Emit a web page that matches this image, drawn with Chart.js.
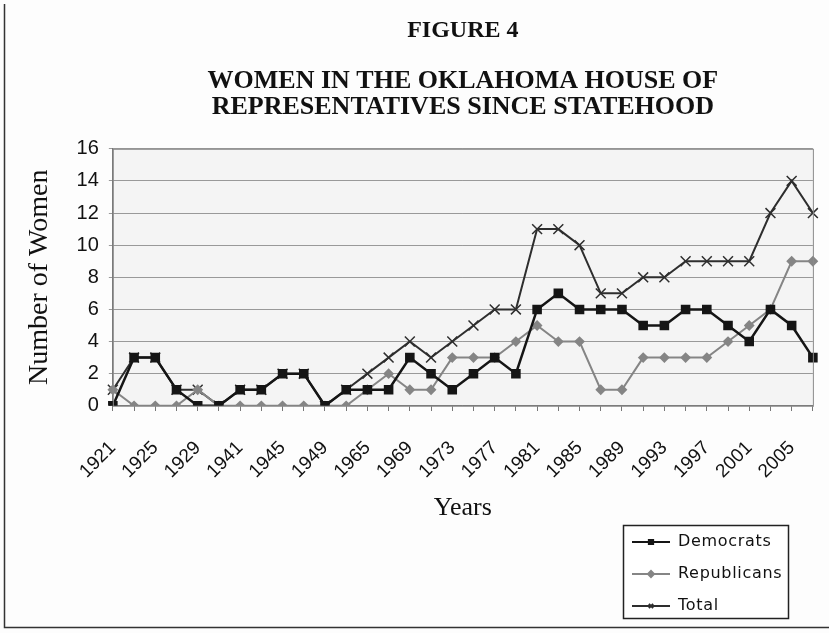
<!DOCTYPE html>
<html>
<head>
<meta charset="utf-8">
<script src="https://cdn.jsdelivr.net/npm/chart.js@4"></script>
<style>
  html, body { margin: 0; padding: 0; background: #fdfdfd; }
  #wrap { width: 829px; height: 633px; }
</style>
</head>
<body>
<div id="wrap"><canvas id="graph"></canvas></div>
<script>
const years = ['1921','1923','1925','1927','1929','1931','1941','1943','1945','1947','1949','1963',
  '1965','1967','1969','1971','1973','1975','1977','1979','1981','1983','1985','1987','1989','1991',
  '1993','1995','1997','1999','2001','2003','2005','2007'];
const democrats   = [0,3,3,1,0,0,1,1,2,2,0,1,1,1,3,2,1,2,3,2,6,7,6,6,6,5,5,6,6,5,4,6,5,3];
const republicans = [1,0,0,0,1,0,0,0,0,0,0,0,1,2,1,1,3,3,3,4,5,4,4,1,1,3,3,3,3,4,5,6,9,9];
const total       = [1,3,3,1,1,0,1,1,2,2,0,1,2,3,4,3,4,5,6,6,11,11,10,7,7,8,8,9,9,9,9,12,14,12];
const yTicks = [0,2,4,6,8,10,12,14,16];

// page frame + plot background
const frame = {
  id: 'frame',
  beforeDraw(chart) {
    const ctx = chart.ctx;
    const a = chart.chartArea;
    ctx.save();
    ctx.fillStyle = '#fdfdfd';
    ctx.fillRect(0, 0, chart.width, chart.height);
    ctx.strokeStyle = '#333';
    ctx.lineWidth = 1.5;
    ctx.beginPath();
    ctx.moveTo(4.5, 4);
    ctx.lineTo(4.5, 627.5);
    ctx.lineTo(829, 627.5);
    ctx.stroke();
    ctx.fillStyle = '#f4f4f4';
    ctx.fillRect(a.left, a.top, a.right - a.left, a.bottom - a.top);
    ctx.restore();
  },
  afterDatasetsDraw(chart) {
    const ctx = chart.ctx;
    const a = chart.chartArea;
    ctx.save();
    ctx.strokeStyle = '#8a8a8a';
    ctx.lineWidth = 1;
    ctx.strokeRect(a.left + 0.5, a.top + 0.5, a.right - a.left, a.bottom - a.top);
    ctx.restore();
  }
};

// boxed legend under the axis title, like the excel one
const boxLegend = {
  id: 'boxLegend',
  afterDraw(chart) {
    const ctx = chart.ctx;
    const x = 623, y = 525, w = 165, h = 93;
    ctx.save();
    ctx.fillStyle = '#ffffff';
    ctx.fillRect(x, y, w, h);
    ctx.strokeStyle = '#222';
    ctx.lineWidth = 1.5;
    ctx.strokeRect(x + 0.5, y + 0.5, w, h);
    ctx.font = '16px "DejaVu Sans"';
    ctx.letterSpacing = '0.7px';
    ctx.textBaseline = 'middle';
    chart.data.datasets.forEach((ds, i) => {
      const ly = y + 17 + i * 32;
      ctx.strokeStyle = ds.borderColor;
      ctx.fillStyle = ds.borderColor;
      ctx.lineWidth = 2;
      ctx.beginPath();
      ctx.moveTo(x + 9, ly);
      ctx.lineTo(x + 47, ly);
      ctx.stroke();
      Chart.helpers.drawPoint(ctx, {
        pointStyle: ds.pointStyle,
        radius: 3,
        borderWidth: 1.5
      }, x + 28, ly);
      ctx.fillStyle = '#111';
      ctx.fillText(ds.label, x + 55, ly);
    });
    ctx.restore();
  }
};

const config = {
  type: 'line',
  data: {
    labels: years,
    datasets: [{
      label: 'Democrats',
      data: democrats,
      borderColor: '#151515',
      backgroundColor: '#151515',
      pointBackgroundColor: '#151515',
      pointBorderColor: '#151515',
      pointStyle: 'rect',
      pointRadius: 5,
      borderWidth: 2.5,
      tension: 0,
    }, {
      label: 'Republicans',
      data: republicans,
      borderColor: '#858585',
      backgroundColor: '#858585',
      pointBackgroundColor: '#858585',
      pointBorderColor: '#858585',
      pointStyle: 'rectRot',
      pointRadius: 4,
      borderWidth: 2,
      tension: 0,
    }, {
      label: 'Total',
      data: total,
      borderColor: '#2e2e2e',
      backgroundColor: '#2e2e2e',
      pointBackgroundColor: '#2e2e2e',
      pointBorderColor: '#2e2e2e',
      pointStyle: 'crossRot',
      pointRadius: 7,
      pointBorderWidth: 1.5,
      borderWidth: 2,
      tension: 0,
    }],
  },
  options: {
    responsive: true,
    maintainAspectRatio: false,
    animation: false,
    layout: { padding: { left: 10, right: 12, top: 16, bottom: 109 } },
    plugins: {
      legend: { display: false },
      tooltip: { enabled: false },
      title: {
        display: true,
        fullSize: false,
        text: 'FIGURE 4',
        color: '#111',
        font: { family: '"Liberation Serif", serif', size: 24, weight: 'bold', lineHeight: 1.2 },
        padding: { top: 0, bottom: 23 },
      },
      subtitle: {
        display: true,
        fullSize: false,
        text: ['WOMEN IN THE OKLAHOMA HOUSE OF', 'REPRESENTATIVES SINCE STATEHOOD'],
        color: '#111',
        font: { family: '"Liberation Serif", serif', size: 26, weight: 'bold', lineHeight: 1.0 },
        padding: { top: 0, bottom: 29 },
      },
    },
    scales: {
      x: {
        offset: false,
        grid: {
          display: true, drawOnChartArea: false, drawTicks: true,
          tickLength: 31, tickBorderDash: [5, 100], color: '#777',
        },
        border: { display: true, color: '#777' },
        ticks: {
          autoSkip: false,
          maxRotation: 45,
          minRotation: 45,
          padding: 0,
          color: '#111',
          font: { family: '"Liberation Sans", Arial, sans-serif', size: 19 },
          callback: (v, i) => (i % 2 === 0 ? years[i] : ''),
        },
        title: {
          display: true,
          text: 'Years',
          color: '#111',
          font: { family: '"Liberation Serif", serif', size: 26, lineHeight: 1.2 },
          padding: { top: 10, bottom: 0 },
        },
      },
      y: {
        min: 0,
        max: 16,
        afterBuildTicks: (axis) => { axis.ticks = yTicks.map(v => ({ value: v })); },
        grid: { color: '#999', lineWidth: 1, tickLength: 4 },
        border: { display: true, color: '#777' },
        ticks: {
          padding: 10,
          color: '#111',
          font: { family: '"Liberation Sans", Arial, sans-serif', size: 20 },
        },
        title: {
          display: true,
          text: 'Number of Women',
          color: '#111',
          font: { family: '"Liberation Serif", serif', size: 28, lineHeight: 1.2 },
          padding: { top: 13, bottom: 10 },
        },
      },
    },
  },
  plugins: [frame, boxLegend],
};

const graph = document.getElementById('graph');
const liveGraph = new Chart(graph.getContext('2d'), config);
</script>
</body>
</html>
